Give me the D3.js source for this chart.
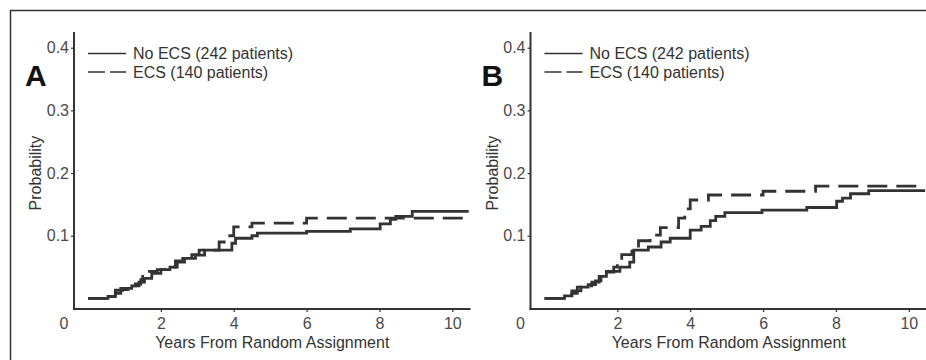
<!DOCTYPE html>
<html>
<head>
<meta charset="utf-8">
<script src="https://cdn.jsdelivr.net/npm/d3@7"></script>
<style>
  body { margin: 0; background: #fff; }
  svg { display: block; font-family: "Liberation Sans", Arial, Helvetica, sans-serif; }
</style>
</head>
<body>
<div id="chart"></div>
<script>
// values
const panelLabels = ['A', 'B'];
const seriesNames = ['No ECS (242 patients)', 'ECS (140 patients)'];
const xTicks = [2, 4, 6, 8, 10];
const yTicks = [0.1, 0.2, 0.3, 0.4];
const xTitle = 'Years From Random Assignment';
const yTitle = 'Probability';

// panel A
const noEcsYearsA = [0, 0.55, 0.75, 0.9, 1.2, 1.4, 1.55, 1.75, 2.0, 2.25, 2.45, 2.65, 2.95, 3.2, 3.95, 4.05, 4.5, 4.65, 6.0, 7.2, 8.02, 8.3, 8.45, 8.9, 10.45];
const noEcsProbA  = [0, 0.003, 0.008, 0.016, 0.02, 0.026, 0.032, 0.04, 0.046, 0.05, 0.058, 0.064, 0.069, 0.077, 0.088, 0.096, 0.1, 0.104, 0.107, 0.111, 0.119, 0.126, 0.131, 0.139, 0.139];
const ecsYearsA   = [0, 0.6, 0.75, 0.95, 1.1, 1.3, 1.45, 1.5, 1.9, 2.15, 2.4, 2.6, 2.85, 3.05, 3.6, 3.8, 4.0, 4.5, 6.0, 10.45];
const ecsProbA    = [0, 0.002, 0.013, 0.014, 0.02, 0.023, 0.03, 0.043, 0.046, 0.05, 0.06, 0.066, 0.07, 0.077, 0.09, 0.1, 0.114, 0.12, 0.128, 0.128];

// panel B
const noEcsYearsB = [0, 0.55, 0.75, 1.0, 1.2, 1.4, 1.55, 1.7, 2.07, 2.34, 2.45, 2.85, 3.2, 3.45, 4.0, 4.3, 4.55, 4.7, 4.95, 5.97, 7.2, 8.02, 8.18, 8.4, 8.9, 10.45];
const noEcsProbB  = [0, 0.004, 0.012, 0.018, 0.022, 0.028, 0.035, 0.043, 0.05, 0.058, 0.077, 0.082, 0.09, 0.096, 0.109, 0.115, 0.124, 0.131, 0.137, 0.141, 0.145, 0.155, 0.16, 0.167, 0.172, 0.172];
const ecsYearsB   = [0, 0.55, 0.75, 0.9, 1.1, 1.3, 1.5, 1.6, 1.9, 2.0, 2.12, 2.4, 2.58, 2.9, 3.18, 3.68, 3.85, 4.0, 4.5, 6.0, 7.44, 10.45];
const ecsProbB    = [0, 0.002, 0.008, 0.018, 0.02, 0.026, 0.038, 0.042, 0.05, 0.06, 0.07, 0.08, 0.092, 0.101, 0.113, 0.128, 0.143, 0.157, 0.165, 0.171, 0.179, 0.179];

const panels = [
  { label: panelLabels[0], dx: 0,     series: [[noEcsYearsA, noEcsProbA], [ecsYearsA, ecsProbA]] },
  { label: panelLabels[1], dx: 456.5, series: [[noEcsYearsB, noEcsProbB], [ecsYearsB, ecsProbB]] }
];

const width = 926, height = 360;
const ink = '#333', soft = '#4a4a4a';

const svg = d3.select('#chart').append('svg')
  .attr('width', width)
  .attr('height', height);

// outer frame of the figure, runs off the right and bottom edge
svg.append('rect')
  .attr('x', 10.5).attr('y', 10.5)
  .attr('width', 940).attr('height', 400)
  .attr('fill', 'none')
  .attr('stroke', ink)
  .attr('stroke-width', 1.5);

const x = d3.scaleLinear().domain([0, 10]).range([88, 452.3]);
const y = d3.scaleLinear().domain([0, 0.4]).range([298.4, 47.7]);
const axisX = 74, axisY = 309;

const line = d3.line()
  .x(d => x(d[0]))
  .y(d => y(d[1]))
  .curve(d3.curveStepAfter);

for (const p of panels) {
  const g = svg.append('g').attr('transform', `translate(${p.dx},0)`);

  // axis lines
  g.append('line')
    .attr('x1', axisX).attr('x2', axisX)
    .attr('y1', y(0.425)).attr('y2', axisY + 1)
    .attr('stroke', ink).attr('stroke-width', 2);
  g.append('line')
    .attr('x1', axisX - 1).attr('x2', x(10.5))
    .attr('y1', axisY).attr('y2', axisY)
    .attr('stroke', ink).attr('stroke-width', 2);

  const yAxis = g.append('g')
    .attr('transform', `translate(${axisX},0)`)
    .call(d3.axisLeft(y).tickValues(yTicks).tickSize(3).tickPadding(2).tickFormat(d3.format('.1f')));
  const xAxis = g.append('g')
    .attr('transform', `translate(0,${axisY})`)
    .call(d3.axisBottom(x).tickValues(xTicks).tickSize(3).tickPadding(6));
  for (const a of [xAxis, yAxis]) {
    a.attr('font-size', 16).attr('font-family', null);
    a.select('.domain').remove();
    a.selectAll('.tick line').attr('stroke', ink).attr('stroke-width', 1.2);
    a.selectAll('.tick text').attr('fill', soft);
  }

  // the lone origin label sits left of the y axis
  g.append('text')
    .attr('x', axisX - 10).attr('y', axisY + 20)
    .attr('text-anchor', 'middle')
    .attr('fill', soft)
    .attr('font-size', 16)
    .text('0');

  g.append('text')
    .attr('x', (axisX + x(10.5)) / 2).attr('y', 348)
    .attr('text-anchor', 'middle')
    .attr('fill', ink)
    .attr('font-size', 16)
    .text(xTitle);

  g.append('text')
    .attr('transform', `translate(${axisX - 33},${y(0.2)}) rotate(-90)`)
    .attr('text-anchor', 'middle')
    .attr('fill', ink)
    .attr('font-size', 16)
    .text(yTitle);

  g.append('text')
    .attr('x', 25).attr('y', 85.5)
    .attr('fill', '#111')
    .attr('font-size', 30)
    .attr('font-weight', 700)
    .text(p.label);

  // step curves
  p.series.forEach((s, i) => {
    const pts = s[0].map((t, k) => [t, s[1][k]]);
    g.append('path')
      .datum(pts)
      .attr('d', line)
      .attr('fill', 'none')
      .attr('stroke', ink)
      .attr('stroke-width', 2.8)
      .attr('stroke-dasharray', i === 1 ? '20,9' : null);
  });

  // legend
  seriesNames.forEach((name, i) => {
    const ly = 53.5 + i * 18.5;
    g.append('line')
      .attr('x1', 88).attr('x2', 126)
      .attr('y1', ly).attr('y2', ly)
      .attr('stroke', ink)
      .attr('stroke-width', 1.6)
      .attr('stroke-dasharray', i === 1 ? '17,5' : null);
    g.append('text')
      .attr('x', 133).attr('y', ly + 5.5)
      .attr('fill', ink)
      .attr('font-size', 16)
      .text(name);
  });
}
</script>
</body>
</html>
